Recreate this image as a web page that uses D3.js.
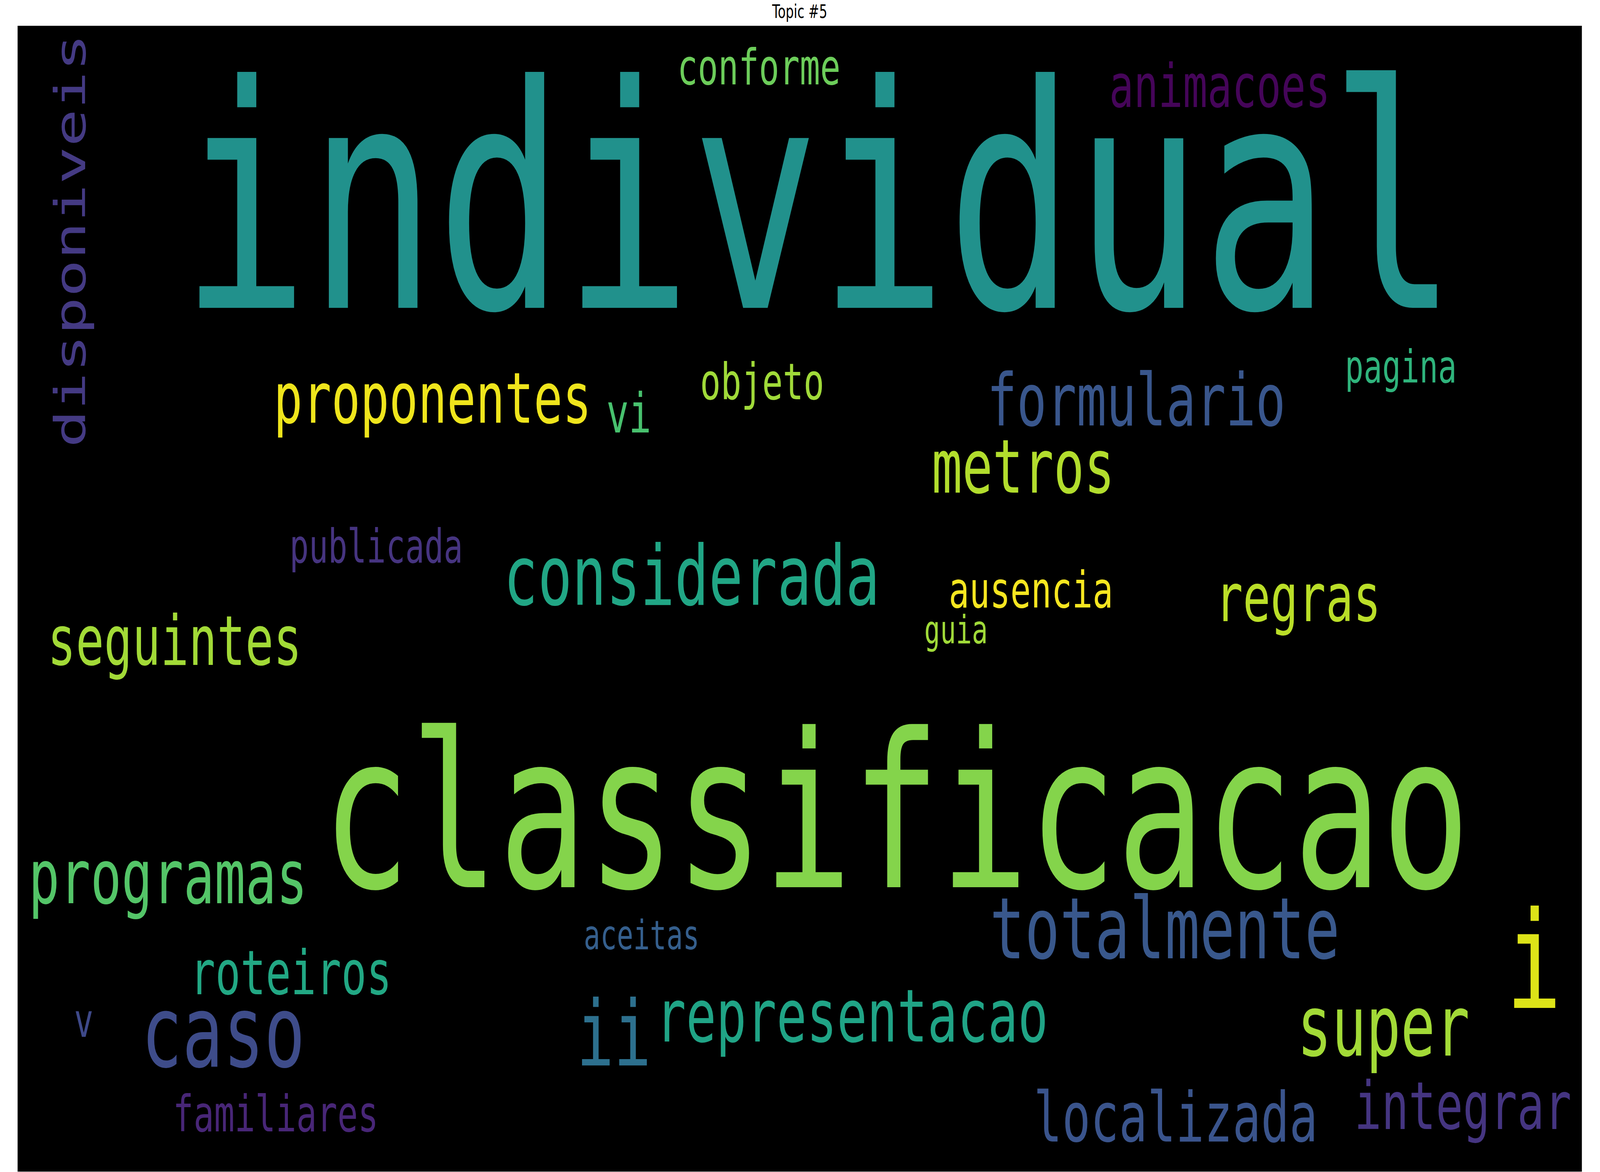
<!DOCTYPE html>
<html>
<head>
<meta charset="utf-8">
<script src="https://cdn.jsdelivr.net/npm/d3@7"></script>
<style>
  html, body { margin: 0; padding: 0; background: #ffffff; overflow: hidden; }
  svg { display: block; }
</style>
</head>
<body>
<script>
// ---- data (word-cloud image space: 5866 x 2933) ----
const title = "Topic #5";
const words = ["individual","classificacao","disponiveis","conforme","animacoes","proponentes","vi","objeto",
  "formulario","pagina","metros","publicada","considerada","ausencia","regras","guia","seguintes","programas",
  "totalmente","i","aceitas","roteiros","v","caso","ii","representacao","super","familiares","localizada","integrar"];
const sizes = [795,550,160,127,153,180,140,129,186,116,190,120,213,128,172,99,176,193,218,345,103,157,120,255,232,188,215,128,177,169];
const posX = [3006,3294,253,2780,4508,1556,2292,2792,4195,5187,3771,1345,2528,3800,4802,3519,589,564,4302,5686,2340,1025,248,771,2236,3129,5122,968,4343,5420];
const posY = [722,2205,550,150,208,1016,1041,956,1023,913,1195,1374,1482,1489,1524,1581,1636,2246,2387,2514,2364,2479,2588,2664,2661,2600,2636,2830,2856,2824];
const vertical = [0,0,1,0,0,0,0,0,0,0,0,0,0,0,0,0,0,0,0,0,0,0,0,0,0,0,0,0,0,0];
const colors = ["#21918c","#84d44b","#443a83","#6ccd5a","#450559","#efe51c","#48c16e","#a0da39",
  "#39568c","#2fb47c","#b2dd2d","#463480","#21a685","#f6e620","#bade28","#a0da39","#a2da37","#54c568",
  "#39588c","#dde318","#355f8d","#22a884","#3e4989","#3e4c8a","#2d708e","#20a486","#a2da37","#482677","#3a548c","#453581"];
const cloudW = 5866, cloudH = 2933;

// ---- layout (figure space 6000 x 3000, fitted to the window) ----
const W = 6000, H = 3000;
const box = {x0: 66, x1: 5932, y0: 66};
const x = d3.scaleLinear().domain([0, cloudW]).range([box.x0, box.x1]);
const k = (box.x1 - box.x0) / cloudW;
const y = d3.scaleLinear().domain([0, cloudH]).range([box.y0, box.y0 + cloudH * k]);

const svg = d3.select("body").append("svg")
  .attr("viewBox", `0 0 ${W} ${H}`)
  .attr("preserveAspectRatio", "none")
  .style("width", "100vw").style("height", "100vh");

svg.append("rect").attr("width", W).attr("height", H).attr("fill", "#ffffff");

svg.append("rect")
  .attr("x", x(0)).attr("y", y(0))
  .attr("width", x(cloudW) - x(0)).attr("height", y(cloudH) - y(0))
  .attr("fill", "#000000");

svg.append("text")
  .attr("x", (x(0) + x(cloudW)) / 2).attr("y", 46)
  .attr("text-anchor", "middle")
  .attr("font-family", "DejaVu Sans")
  .attr("font-size", 48)
  .attr("fill", "#000000")
  .text(title);

const data = words.map((w, i) => ({w, s: sizes[i], x: posX[i], y: posY[i], v: vertical[i], c: colors[i]}));

svg.append("g").selectAll("text").data(data).join("text")
  .attr("transform", d => `translate(${x(d.x)},${y(d.y)})` + (d.v ? " rotate(-90)" : ""))
  .attr("text-anchor", "middle")
  .attr("font-family", "'DejaVu Sans Mono', monospace")
  .attr("font-size", d => d.s * k)
  .attr("fill", d => d.c)
  .text(d => d.w);
</script>
</body>
</html>
